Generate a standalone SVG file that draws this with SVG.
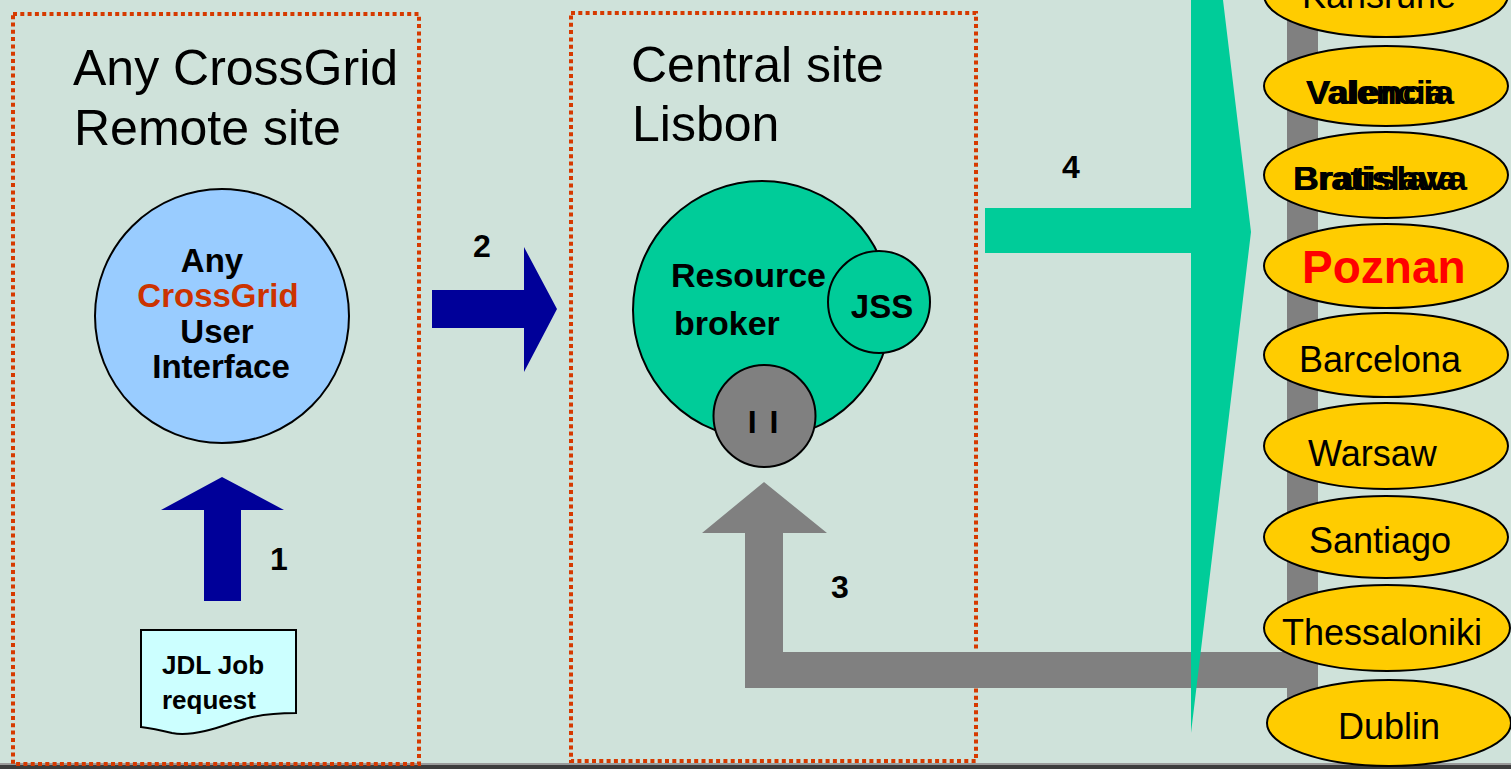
<svg xmlns="http://www.w3.org/2000/svg" width="1511" height="769" viewBox="0 0 1511 769">
<style>
.box{fill:none;stroke:#D63A00;stroke-width:4;stroke-dasharray:4 3.3}
.title{font-family:"Liberation Sans",Arial,sans-serif;font-size:50px;fill:#000}
.b{font-family:"Liberation Sans",Arial,sans-serif;font-weight:bold;fill:#000}
.n{font-family:"Liberation Sans",Arial,sans-serif;fill:#000}
.site{fill:#FFCC00;stroke:#000;stroke-width:2}
.lbl{font-family:"Liberation Sans",Arial,sans-serif;font-weight:bold;font-size:32px;fill:#000}
</style>
<rect x="0" y="0" width="1511" height="769" fill="#CFE2DA"/>
<rect x="0" y="763" width="1511" height="2" fill="#9A9A9A"/>
<rect x="0" y="765" width="1511" height="4" fill="#3C3C3C"/>

<g id="remote-site">
<rect class="box" x="13" y="14" width="406" height="750"/>
<text class="title" x="73" y="85">Any CrossGrid</text>
<text class="title" x="74" y="145">Remote site</text>
</g>

<g id="central-site">
<rect class="box" x="571" y="13" width="405" height="748"/>
<text class="title" x="631" y="82">Central site</text>
<text class="title" x="632" y="141">Lisbon</text>
</g>

<g id="connectors">
<polygon points="222,477 284,510 241,510 241,601 204,601 204,510 161,510" fill="#000099"/>
<text class="lbl" x="270" y="570">1</text>
<polygon points="432,290 524,290 524,247 557,309 524,372 524,328 432,328" fill="#000099"/>
<text class="lbl" x="473" y="257">2</text>
<polygon points="764,482 827,533 783,533 783,652 1287,652 1287,0 1318,0 1318,720 1287,720 1287,688 745,688 745,533 702,533" fill="#808080"/>
<text class="lbl" x="831" y="598">3</text>
<polygon points="985,208 1191,208 1191,0 1223,0 1251,232 1191,733 1191,253 985,253" fill="#00CC99"/>
<text class="lbl" x="1062" y="178">4</text>
</g>

<g id="user-interface">
<circle cx="222" cy="316" r="127" fill="#99CCFF" stroke="#000" stroke-width="2"/>
<text class="b" font-size="33" text-anchor="middle" x="212" y="272">Any</text>
<text class="b" font-size="33" text-anchor="middle" x="218" y="307" style="fill:#CC3300">CrossGrid</text>
<text class="b" font-size="33" text-anchor="middle" x="217" y="343">User</text>
<text class="b" font-size="33" text-anchor="middle" x="221" y="378">Interface</text>
</g>

<g id="jdl-request">
<path d="M141,630 H296 V713 C280,713 262,714 245,719 C230,723 222,727 205,731 C192,734 182,735 172,733 C160,730 150,728 141,727 Z" fill="#CCFFFF" stroke="#000" stroke-width="2"/>
<text class="b" font-size="26" x="162" y="674">JDL Job</text>
<text class="b" font-size="26" x="162" y="709">request</text>
</g>

<g id="resource-broker">
<circle cx="762" cy="310" r="129" fill="#00CC99" stroke="#000" stroke-width="2"/>
<text class="b" font-size="34" x="671" y="287">Resource</text>
<text class="b" font-size="34" x="674" y="335">broker</text>
</g>

<g id="jss">
<circle cx="879" cy="302" r="51" fill="#00CC99" stroke="#000" stroke-width="2"/>
<text class="b" font-size="33" text-anchor="middle" x="882" y="318">JSS</text>
</g>

<g id="ii">
<circle cx="764.5" cy="416" r="51" fill="#808080" stroke="#000" stroke-width="2"/>
<text class="b" font-size="32" text-anchor="middle" x="764" y="433" letter-spacing="2">I I</text>
</g>

<g id="karlsruhe">
<ellipse class="site" cx="1386" cy="-5" rx="122" ry="42"/>
<text class="n" font-size="36" x="1302" y="8">Karlsruhe</text>
</g>
<g id="valencia">
<ellipse class="site" cx="1386" cy="86" rx="122" ry="40"/>
<text class="b" font-size="34" x="1306" y="104" textLength="139" lengthAdjust="spacingAndGlyphs">Valencia</text>
<text class="b" font-size="34" x="1306" y="104" textLength="148" lengthAdjust="spacingAndGlyphs">Valencia</text>
</g>
<g id="bratislava">
<ellipse class="site" cx="1386" cy="175" rx="122" ry="43"/>
<text class="b" font-size="34" x="1293" y="190" textLength="164" lengthAdjust="spacingAndGlyphs">Bratislava</text>
<text class="b" font-size="34" x="1293" y="190" textLength="174" lengthAdjust="spacingAndGlyphs">Bratislava</text>
</g>
<g id="poznan">
<ellipse class="site" cx="1386" cy="266" rx="122" ry="42"/>
<text class="b" font-size="46" x="1302" y="283" style="fill:#FF0000">Poznan</text>
</g>
<g id="barcelona">
<ellipse class="site" cx="1386" cy="355" rx="122" ry="42"/>
<text class="n" font-size="36" x="1299" y="372">Barcelona</text>
</g>
<g id="warsaw">
<ellipse class="site" cx="1386" cy="446" rx="122" ry="43"/>
<text class="n" font-size="36" x="1308" y="466">Warsaw</text>
</g>
<g id="santiago">
<ellipse class="site" cx="1386" cy="537" rx="122" ry="41"/>
<text class="n" font-size="36" x="1309" y="553">Santiago</text>
</g>
<g id="thessaloniki">
<ellipse class="site" cx="1387" cy="628" rx="123" ry="43"/>
<text class="n" font-size="36" x="1282" y="645">Thessaloniki</text>
</g>
<g id="dublin">
<ellipse class="site" cx="1389" cy="723" rx="122" ry="43"/>
<text class="n" font-size="36" x="1338" y="739">Dublin</text>
</g>
</svg>
